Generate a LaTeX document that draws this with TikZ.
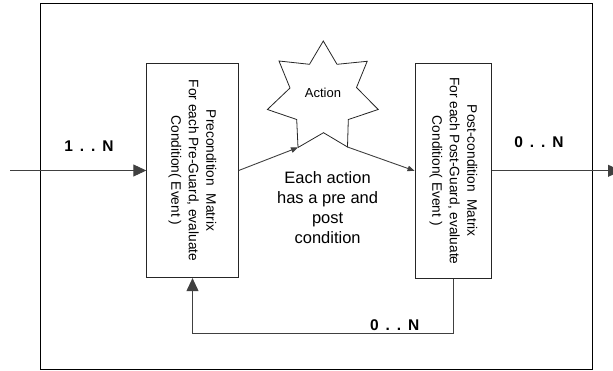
\documentclass[tikz,border=0pt]{standalone}
\usepackage{fontspec}
\setmainfont{Liberation Sans}
\usetikzlibrary{arrows.meta}
\tikzset{
  boxnode/.style={draw=black!85, line width=0.8pt, inner sep=0pt},
  boxtext/.style={rotate=-90, align=center, font=\fontsize{13.7}{17.5}\selectfont},
  conn/.style={draw=black!75, line width=0.9pt},
  bigtip/.style={-{Triangle[length=13pt,width=12pt]}},
  smalltip/.style={-{Triangle[length=7pt,width=5.5pt]}},
  mult/.style={font=\fontsize{15.5}{18}\selectfont\bfseries, inner sep=0pt}
}
\newcommand{\mdots}[1]{#1\hspace{0.45em}.\hspace{0.45em}.\hspace{0.45em}N}
\begin{document}
\begin{tikzpicture}[x=1pt,y=-1pt]
\useasboundingbox (0,0) rectangle (613,370);
% outer frame
\node[draw=black, line width=0.9pt, minimum width=551.5pt, minimum height=366pt, inner sep=0pt] (frame) at (316.25,186) {};
% boxes
\node[boxnode, minimum width=91.6pt, minimum height=214.4pt] (pre) at (192.5,170.5) {};
\node[boxtext] (pretext) at (pre.center) {Precondition\ \ Matrix\\For each Pre-Guard, evaluate\\Condition( Event )};
\node[boxnode, minimum width=76.7pt, minimum height=215pt] (post) at (453.3,170.8) {};
\node[boxtext] (posttext) at (post.center) {Post-condition\ \ Matrix\\For each Post-Guard, evaluate\\Condition( Event )};
% star
\coordinate (sbl) at (298,147.5);
\coordinate (sbr) at (347.5,147);
\draw[line width=0.8pt, draw=black!85] (323.3,41) -- (337,64.3) -- (367.2,61.3) -- (356.5,87.5) -- (378.2,109.5) -- (348.3,119.5) -- (sbr) -- (323.5,132.7) -- (sbl) -- (296.7,119.5) -- (267.4,109.5) -- (290,88) -- (279,61) -- (309.5,64.3) -- cycle;
\node[font=\fontsize{13}{15}\selectfont] (act) at (323,93) {Action};
\node[align=center, font=\fontsize{16.5}{20}\selectfont] (note) at (327.6,207.7) {Each action\\has a pre and\\post\\condition};
% connectors
\coordinate (in) at (10,170.5);
\coordinate (out) at (621,170.8);
\draw[conn, bigtip] (in) -- (pre.west);
\draw[conn, smalltip] (pre.east) -- (sbl);
\draw[conn, smalltip] (sbr) -- (post.west);
\draw[conn, bigtip] (post.east) -- (out);
\draw[conn, bigtip] (post.south) -- ++(0,55) -| (pre.south);
% labels
\node[mult] (l1) at (89,146) {\mdots{1}};
\node[mult] (l2) at (539,142) {\mdots{0}};
\node[mult] (l3) at (394.7,325) {\mdots{0}};
\end{tikzpicture}
\end{document}
